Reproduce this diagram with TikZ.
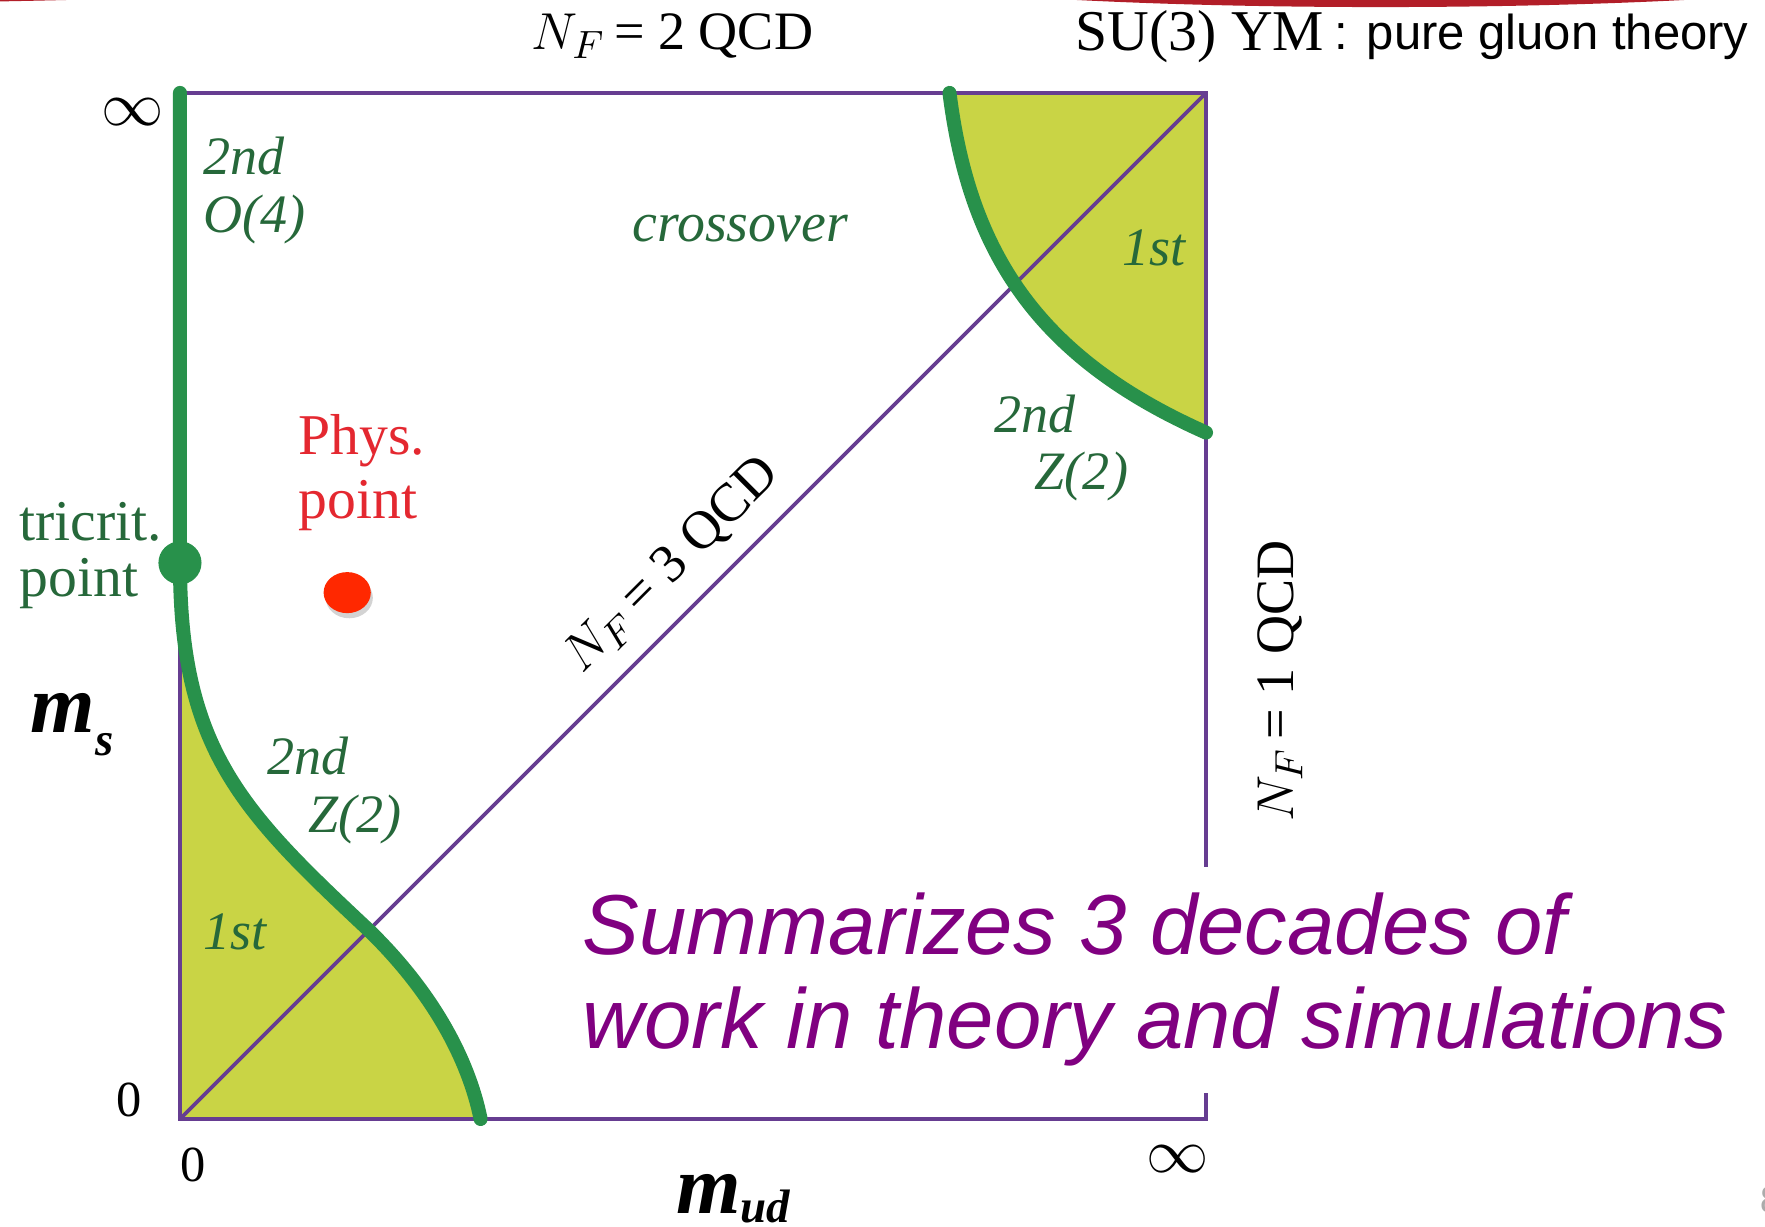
\documentclass[tikz,border=0pt]{standalone}
\usepackage{fontspec}
\setmainfont{Liberation Serif}
\setsansfont{Liberation Sans}
\usetikzlibrary{shadows}

\definecolor{boxpurple}{RGB}{102,61,145}
\definecolor{curvegreen}{RGB}{40,145,75}
\definecolor{labgreen}{RGB}{38,104,58}
\definecolor{firstfill}{RGB}{201,212,69}
\definecolor{physred}{RGB}{255,40,0}
\definecolor{physlab}{RGB}{228,40,48}
\definecolor{sumpurple}{RGB}{128,0,128}
\definecolor{topred}{RGB}{178,30,40}

\newcommand\massvar[2]{{\bfseries\itshape m}\raisebox{-#2}{\fontsize{13}{13}\selectfont\bfseries\itshape #1}}

\tikzset{
  boxline/.style={boxpurple,line width=1pt},
  transline/.style={curvegreen,line width=3.9pt,line cap=round},
  phaselab/.style={text=labgreen,font=\fontsize{15}{16}\selectfont\itshape,inner sep=0pt,align=left},
  axislab/.style={font=\fontsize{14}{16}\selectfont,inner sep=0pt},
  inflab/.style={font=\fontsize{17.5}{18}\selectfont,inner sep=0pt},
  masslab/.style={font=\fontsize{23}{24}\selectfont,inner sep=0pt,anchor=base west},
  theorylab/.style={font=\fontsize{15}{17}\selectfont,inner sep=0pt}
}

\begin{document}
\begin{tikzpicture}
\useasboundingbox (-1.754,-1.043) rectangle (15.448,10.906);
\fill[topred] (11.70,11.30) ellipse (5.64 and 0.463);
\fill[topred] (-4.19,11.30) ellipse (7.7 and 0.43);
\fill[firstfill] (0,0) -- (0,5.42) .. controls (0,3.6) and (0.6,3.0) .. (1.84,1.84)
  .. controls (2.6,1.1) and (2.85,0.4) .. (2.93,0) -- cycle;
\fill[firstfill] (7.5,10) .. controls (7.7,8.4) and (8.4,7.4) .. (10,6.69) -- (10,10) -- cycle;
\draw[boxline] (10,0.25) -- (10,0) -- (0,0) -- (0,10) -- (10,10) -- (10,2.46);
\draw[boxline] (0,0) -- (10,10);
\draw[transline] (0,10) -- (0,5.42) .. controls (0,3.6) and (0.6,3.0) .. (1.84,1.84)
  .. controls (2.6,1.1) and (2.85,0.4) .. (2.93,0);
\draw[transline] (7.5,10) .. controls (7.7,8.4) and (8.4,7.4) .. (10,6.69);
\fill[curvegreen] (0,5.42) circle (0.21);
\path[fill=physred,drop shadow={shadow xshift=0.02,shadow yshift=-0.05,opacity=0.35}] (1.63,5.13) ellipse (0.23 and 0.2);

\node[theorylab] (nftwo) at (4.80,10.55) {$N_F$\,= 2 QCD};
\node[theorylab,font=\fontsize{16}{18}\selectfont] (suthree) at (9.94,10.55) {SU(3) YM};
\node[anchor=west,inner sep=0pt,font=\sffamily\fontsize{13.6}{15}\selectfont] (gluon) at (11.25,10.55) {: pure gluon theory};
\node[theorylab,rotate=45] (nfthree) at (4.80,5.39) {$N_F$\,= 3 QCD};
\node[theorylab,rotate=90] (nfone) at (10.72,4.27) {$N_F$\,= 1 QCD};

\node[phaselab,anchor=west] (secondO) at (0.22,9.05) {2nd\\O(4)};
\node[phaselab,font=\fontsize{15.5}{16}\selectfont\itshape] (crossover) at (5.46,8.68) {crossover};
\node[phaselab] (firstUR) at (9.49,8.49) {1st};
\node[phaselab,anchor=west] (secondUR) at (7.93,6.54) {2nd\\\hspace*{0.75em}Z(2)};
\node[phaselab,anchor=west] (secondLL) at (0.85,3.20) {2nd\\\hspace*{0.75em}Z(2)};
\node[phaselab] (firstLL) at (0.54,1.82) {1st};

\node[anchor=west,inner sep=0pt,align=left,text=physlab,font=\fontsize{16}{17.7}\selectfont] (phys) at (1.15,6.30) {Phys.\\point};
\node[anchor=west,inner sep=0pt,align=left,text=labgreen,font=\fontsize{16}{15.7}\selectfont] (tricrit) at (-1.57,5.49) {tricrit.\\point};

\node[axislab] (zeroL) at (-0.50,0.19) {0};
\node[axislab] (zeroB) at (0.13,-0.45) {0};
\node[inflab] (infL) at (-0.46,9.81) {$\infty$};
\node[inflab] (infB) at (9.72,-0.39) {$\infty$};
\node[masslab] (ms) at (-1.46,3.77) {\massvar{s}{0.6ex}};
\node[masslab] (mud) at (4.83,-0.92) {\massvar{ud}{0.25ex}};

\node[anchor=west,inner sep=0pt,align=left,text=sumpurple,font=\sffamily\itshape\fontsize{23.6}{26.3}\selectfont] (summary) at (3.92,1.36) {Summarizes 3 decades of\\work in theory and simulations};
\node[inner sep=0pt,text=black!33,font=\fontsize{10.7}{12}\selectfont] (pagenum) at (15.50,-0.79) {8};
\end{tikzpicture}
\end{document}
